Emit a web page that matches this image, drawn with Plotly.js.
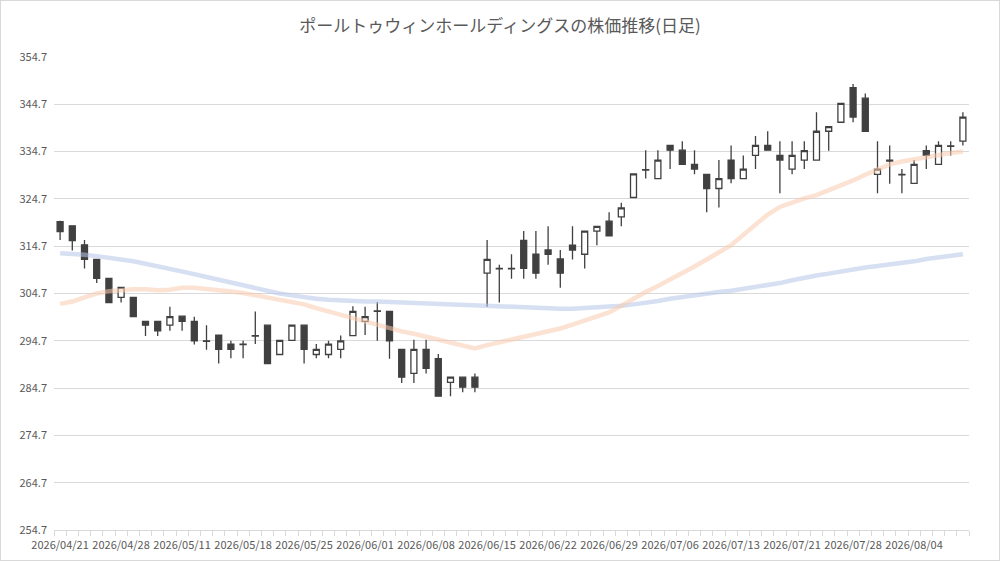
<!DOCTYPE html>
<html>
<head>
<meta charset="utf-8">
<script src="https://cdn.plot.ly/plotly-3.0.1.min.js"></script>
<style>
  body { margin: 0; background: #fff; }
  #frame { width: 1000px; height: 561px; box-sizing: border-box; border: 1px solid #d9d9d9; }
  #chart { width: 998px; height: 559px; }
</style>
</head>
<body>
<div id="frame"><div id="chart"></div></div>
<script>
const dates = [
  "2026/04/21", "2026/04/22", "2026/04/23", "2026/04/24", "2026/04/27",
  "2026/04/28", "2026/04/30", "2026/05/01", "2026/05/07", "2026/05/08",
  "2026/05/11", "2026/05/12", "2026/05/13", "2026/05/14", "2026/05/15",
  "2026/05/18", "2026/05/19", "2026/05/20", "2026/05/21", "2026/05/22",
  "2026/05/25", "2026/05/26", "2026/05/27", "2026/05/28", "2026/05/29",
  "2026/06/01", "2026/06/02", "2026/06/03", "2026/06/04", "2026/06/05",
  "2026/06/08", "2026/06/09", "2026/06/10", "2026/06/11", "2026/06/12",
  "2026/06/15", "2026/06/16", "2026/06/17", "2026/06/18", "2026/06/19",
  "2026/06/22", "2026/06/23", "2026/06/24", "2026/06/25", "2026/06/26",
  "2026/06/29", "2026/06/30", "2026/07/01", "2026/07/02", "2026/07/03",
  "2026/07/06", "2026/07/07", "2026/07/08", "2026/07/09", "2026/07/10",
  "2026/07/13", "2026/07/14", "2026/07/15", "2026/07/16", "2026/07/17",
  "2026/07/21", "2026/07/22", "2026/07/23", "2026/07/24", "2026/07/27",
  "2026/07/28", "2026/07/29", "2026/07/30", "2026/07/31", "2026/08/03",
  "2026/08/04", "2026/08/05", "2026/08/06", "2026/08/07", "2026/08/10"
];

const open = [
  319.9, 319.0, 315.0, 311.9, 307.9, 303.9, 303.9, 298.8, 298.8, 298.0,
  299.9, 298.8, 294.7, 295.9, 294.0, 294.0, 295.8, 298.0, 291.8, 294.8,
  298.0, 291.8, 291.8, 292.9, 295.8, 298.8, 301.0, 300.9, 292.9, 287.8,
  292.9, 290.9, 285.9, 287.0, 287.0, 309.0, 310.0, 309.9, 315.9, 313.0,
  313.9, 312.0, 314.9, 313.0, 317.9, 320.0, 320.9, 325.0, 330.9, 329.0,
  336.0, 335.0, 332.0, 329.9, 326.9, 332.9, 329.0, 333.9, 336.0, 333.9,
  331.0, 332.9, 332.9, 339.0, 340.9, 348.2, 346.0, 329.9, 332.9, 329.9,
  328.0, 334.9, 332.0, 335.8, 336.9
];
const high = [
  320.1, 319.1, 316.0, 312.0, 308.0, 306.1, 304.0, 298.9, 298.9, 301.9,
  300.0, 299.8, 298.0, 296.0, 294.7, 294.7, 300.9, 298.1, 294.9, 298.0,
  298.1, 294.0, 294.7, 295.8, 302.0, 301.9, 302.9, 301.0, 293.0, 294.9,
  294.9, 291.9, 287.0, 287.1, 287.8, 316.0, 310.8, 313.0, 317.9, 317.9,
  318.9, 313.9, 318.9, 318.0, 319.0, 321.9, 323.9, 330.1, 335.0, 335.0,
  336.1, 336.9, 335.0, 330.0, 332.9, 336.0, 333.9, 338.0, 339.0, 336.9,
  336.9, 336.9, 343.0, 340.1, 345.0, 349.0, 347.0, 336.9, 336.0, 331.0,
  332.9, 336.0, 336.9, 336.9, 343.0
];
const low = [
  316.0, 313.8, 310.0, 306.9, 302.7, 302.8, 299.7, 295.7, 295.7, 296.8,
  296.8, 293.9, 292.8, 289.9, 291.0, 291.0, 294.0, 289.9, 291.7, 294.7,
  289.9, 291.0, 291.0, 291.0, 295.7, 295.9, 294.7, 290.9, 285.8, 285.8,
  287.8, 282.9, 283.0, 283.8, 283.8, 301.9, 302.8, 307.8, 307.8, 307.8,
  310.8, 305.9, 311.9, 310.0, 314.9, 316.8, 318.9, 324.9, 329.0, 328.9,
  331.0, 331.9, 329.9, 321.9, 322.9, 328.0, 328.9, 331.0, 334.9, 325.9,
  329.9, 331.0, 332.8, 334.9, 340.8, 340.9, 338.9, 325.9, 327.9, 325.9,
  327.9, 331.0, 331.9, 333.9, 336.0
];
const close = [
  317.8, 315.9, 311.9, 307.9, 302.8, 306.0, 299.8, 298.0, 296.8, 299.8,
  298.8, 294.7, 294.6, 292.9, 292.9, 293.9, 295.7, 289.9, 294.8, 298.0,
  292.9, 292.9, 294.0, 294.7, 300.9, 299.8, 300.9, 294.7, 287.0, 292.9,
  288.9, 283.0, 287.0, 284.9, 284.9, 311.9, 309.9, 310.0, 310.0, 309.0,
  313.0, 309.0, 313.9, 317.9, 318.9, 316.9, 322.8, 330.0, 330.8, 332.9,
  335.0, 332.0, 331.0, 326.9, 329.0, 329.0, 331.0, 336.0, 335.0, 332.9,
  333.9, 334.9, 339.0, 340.0, 344.9, 342.0, 339.0, 331.0, 332.7, 329.8,
  332.0, 333.9, 336.0, 335.9, 342.0
];

// short moving average (orange) and long moving average (blue)
const maShort = [
  302.5, 303.0, 303.9, 304.7, 305.2, 305.5, 305.6, 305.6, 305.4, 305.5,
  305.9, 305.9, 305.7, 305.4, 305.1, 304.8, 304.3, 303.9, 303.5, 302.9,
  302.4, 301.6, 300.9, 300.2, 299.4, 298.6, 298.0, 297.3, 296.7, 296.2,
  295.6, 295.0, 294.3, 293.7, 293.1, 293.8, 294.4, 295.0, 295.5, 296.0,
  296.6, 297.3, 298.1, 298.9, 299.8, 300.7, 302.1, 303.6, 305.0, 306.3,
  307.6, 309.0, 310.4, 311.9, 313.4, 314.9, 317.1, 319.3, 321.4, 323.0,
  324.0, 324.8, 325.5, 326.5, 327.5, 328.6, 329.8, 331.0, 332.0, 332.6,
  333.1, 333.6, 334.0, 334.4, 334.7
];
const maLong = [
  313.2, 313.1, 312.9, 312.6, 312.3, 312.0, 311.5, 311.0, 310.5, 309.9,
  309.3, 308.8, 308.2, 307.6, 307.0, 306.4, 305.8, 305.2, 304.7, 304.3,
  303.9, 303.6, 303.4, 303.2, 303.1, 303.0, 303.0, 302.9, 302.8, 302.7,
  302.6, 302.5, 302.3, 302.2, 302.0, 301.9, 301.8, 301.7, 301.6, 301.6,
  301.5, 301.5, 301.5, 301.6, 301.8, 301.9, 302.1, 302.4, 302.7, 303.1,
  303.6, 304.0, 304.4, 304.7, 305.0, 305.3, 305.7, 306.0, 306.4, 306.9,
  307.5, 308.1, 308.5, 308.9, 309.4, 309.8, 310.2, 310.5, 310.8, 311.1,
  311.5, 312.0, 312.3, 312.6, 313.0
];

const idx = dates.map((_, i) => i);
const tickIdx = idx.filter((i) => i % 5 === 0);
const grey = "#595959";
const candleColor = "#404040";

Plotly.newPlot(
  "chart",
  [
    {
      type: "scatter", mode: "lines", x: idx, y: maLong,
      line: { color: "rgba(180,198,231,0.55)", width: 4.5 }, hoverinfo: "skip",
    },
    {
      type: "scatter", mode: "lines", x: idx, y: maShort,
      line: { color: "rgba(248,203,173,0.55)", width: 4.5 }, hoverinfo: "skip",
    },
    {
      type: "candlestick", x: idx, open, high, low, close,
      increasing: { line: { color: candleColor, width: 1.3 }, fillcolor: "#ffffff" },
      decreasing: { line: { color: candleColor, width: 1.3 }, fillcolor: candleColor },
      whiskerwidth: 0,
      hoverinfo: "skip",
    },
  ],
  {
    width: 998,
    height: 559,
    margin: { l: 53, r: 30, t: 56, b: 30 },
    paper_bgcolor: "#ffffff",
    plot_bgcolor: "#ffffff",
    showlegend: false,
    font: { family: "'Noto Sans CJK JP', 'Liberation Sans', sans-serif", color: grey, size: 11 },
    title: {
      text: "ポールトゥウィンホールディングスの株価推移(日足)",
      font: { size: 17, color: grey },
      x: 0.5, xanchor: "center", y: 0.955, yanchor: "middle",
    },
    xaxis: {
      type: "linear",
      range: [-0.5, 74.5],
      tickmode: "array",
      tickvals: tickIdx,
      ticktext: tickIdx.map((i) => dates[i]),
      ticks: "",
      ticklabelstandoff: 5,
      showgrid: false,
      zeroline: false,
      showline: true,
      linecolor: "#d9d9d9",
      linewidth: 1,
      minor: { tick0: -0.5, dtick: 1, ticks: "outside", ticklen: 5, tickcolor: "#d9d9d9", showgrid: false },
      rangeslider: { visible: false },
      tickfont: { size: 11, color: grey },
      fixedrange: true,
    },
    yaxis: {
      range: [254.7, 354.7],
      tick0: 254.7,
      dtick: 10,
      tickformat: ".1f",
      showgrid: true,
      gridcolor: "#d9d9d9",
      zeroline: false,
      showline: false,
      ticks: "",
      ticklabelstandoff: 6,
      tickfont: { size: 11, color: grey },
      fixedrange: true,
    },
  },
  { displayModeBar: false, staticPlot: true }
);
</script>
</body>
</html>
